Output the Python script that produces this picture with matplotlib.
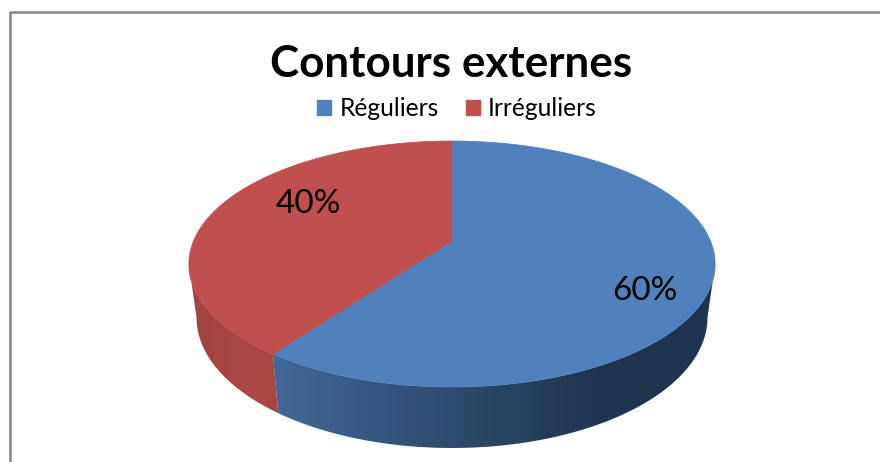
import numpy as np
import matplotlib.pyplot as plt
from matplotlib.patches import Polygon, Patch
from matplotlib.colors import LinearSegmentedColormap

plt.rcParams["font.family"] = ["Lato", "DejaVu Sans"]

labels = ["Réguliers", "Irréguliers"]
values = [60, 40]
pct_labels = ["60%", "40%"]
title = "Contours externes"

colors = ["#4f81bd", "#c0504d"]
side_colors = [["#41699a", "#34567f", "#2a4564", "#1f3450", "#20354f"], ["#a04341", "#a84744", "#ab4845"]]


def project(theta, a=258.5, b=118.7, k=0.187, cx=452, cy=241, drop=0):
    # theta clockwise from the top, simple perspective on the disc
    u, v = np.sin(theta), np.cos(theta)
    w = 1 + k * v
    return np.column_stack([cx + a * u / w, cy - b * v / w + drop])


fig = plt.figure(figsize=(8.8, 4.62), dpi=100)
ax = fig.add_axes([0, 0, 1, 1])
ax.set_xlim(0, 880)
ax.set_ylim(462, 0)
ax.axis("off")

# frame of the chart
ax.plot([9.5, 9.5, 880], [462, 12, 12], color="#868686", lw=1.8)

edges = np.deg2rad(np.cumsum([0] + values) * 3.6)
widest = np.arccos(-0.187)  # where the disc is widest on screen

# sides first, from the widest point round the front
for i in range(len(values)):
    start = max(edges[i], widest)
    stop = min(edges[i + 1], 2 * np.pi - widest)
    t = np.linspace(start, stop, 200)
    top = project(t)
    low = project(t, a=251, b=126, drop=52)
    pts = np.vstack([top, low[::-1]])
    cmap = LinearSegmentedColormap.from_list("side", side_colors[i])
    x0, x1 = pts[:, 0].min(), pts[:, 0].max()
    y0, y1 = pts[:, 1].min(), pts[:, 1].max()
    im = ax.imshow(np.linspace(0, 1, 256).reshape(1, -1), cmap=cmap, extent=[x0, x1, y1, y0],
                   aspect="auto", zorder=2)
    poly = Polygon(pts, closed=True, transform=ax.transData, fc="none", ec="none")
    ax.add_patch(poly)
    im.set_clip_path(poly)
ax.set_xlim(0, 880)
ax.set_ylim(462, 0)

# top of the pie
for i in range(len(values)):
    t = np.linspace(edges[i], edges[i + 1], 200)
    pts = np.vstack([[[452, 241]], project(t)])
    ax.add_patch(Polygon(pts, closed=True, fc=colors[i], ec=colors[i], lw=0.5, zorder=3))

ax.text(645, 291, pct_labels[0], fontsize=24, ha="center", va="center", zorder=4)
ax.text(308, 204, pct_labels[1], fontsize=24, ha="center", va="center", zorder=4)

ax.text(451, 64, title, fontsize=31.7, fontweight="bold", ha="center", va="center")

handles = [Patch(color=c) for c in colors]
ax.legend(handles, labels, ncols=2, loc="center", bbox_to_anchor=(457 / 880, 1 - 109 / 462),
          frameon=False, fontsize=17.7, handlelength=0.57, handleheight=0.57,
          handletextpad=0.33, columnspacing=1.1)

fig.savefig("out.png", dpi=100)
